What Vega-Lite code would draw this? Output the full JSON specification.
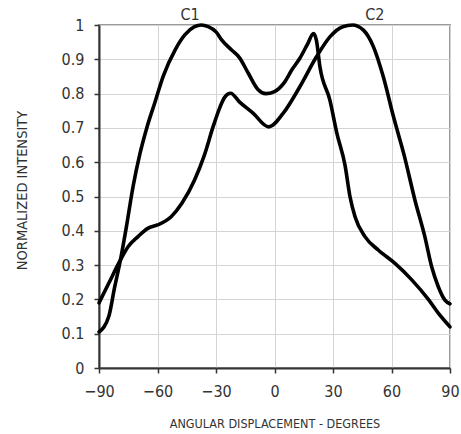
{
  "$schema": "https://vega.github.io/schema/vega-lite/v6.json",
  "width": 351,
  "height": 343,
  "autosize": {"type": "none"},
  "padding": {"left": 99, "top": 25, "right": 11, "bottom": 66},
  "background": "white",
  "config": {
    "view": {"stroke": "#9a9a9a", "strokeWidth": 2},
    "font": "DejaVu Sans Condensed",
    "axis": {
      "labelFont": "DejaVu Sans Condensed",
      "titleFont": "DejaVu Sans Condensed",
      "labelFontSize": 16,
      "titleFontSize": 12.5,
      "titleFontWeight": "normal",
      "labelColor": "#333",
      "titleColor": "#333",
      "gridColor": "#d4d4d4",
      "gridWidth": 1,
      "domainColor": "#333",
      "domainWidth": 2,
      "tickColor": "#333",
      "tickSize": 5,
      "tickWidth": 1.5,
      "labelOverlap": false,
      "labelFlush": false
    }
  },
  "datasets": {
    "curves": [
      {"series": "A", "angle": -90, "intensity": 0.105},
      {"series": "A", "angle": -85, "intensity": 0.15},
      {"series": "A", "angle": -82, "intensity": 0.235},
      {"series": "A", "angle": -79, "intensity": 0.315},
      {"series": "A", "angle": -76, "intensity": 0.41},
      {"series": "A", "angle": -72.5, "intensity": 0.53},
      {"series": "A", "angle": -69, "intensity": 0.625},
      {"series": "A", "angle": -65.5, "intensity": 0.7},
      {"series": "A", "angle": -61.3, "intensity": 0.775},
      {"series": "A", "angle": -57, "intensity": 0.852},
      {"series": "A", "angle": -51, "intensity": 0.927},
      {"series": "A", "angle": -46, "intensity": 0.971},
      {"series": "A", "angle": -41, "intensity": 0.995},
      {"series": "A", "angle": -37.5, "intensity": 1.0},
      {"series": "A", "angle": -34, "intensity": 0.995},
      {"series": "A", "angle": -30, "intensity": 0.98},
      {"series": "A", "angle": -27, "intensity": 0.956},
      {"series": "A", "angle": -22, "intensity": 0.927},
      {"series": "A", "angle": -18, "intensity": 0.905},
      {"series": "A", "angle": -13.5, "intensity": 0.86},
      {"series": "A", "angle": -8.5, "intensity": 0.812},
      {"series": "A", "angle": -4.5, "intensity": 0.8},
      {"series": "A", "angle": 0, "intensity": 0.806},
      {"series": "A", "angle": 5, "intensity": 0.832},
      {"series": "A", "angle": 9, "intensity": 0.87},
      {"series": "A", "angle": 13, "intensity": 0.903},
      {"series": "A", "angle": 17, "intensity": 0.945},
      {"series": "A", "angle": 20, "intensity": 0.975},
      {"series": "A", "angle": 21.5, "intensity": 0.955},
      {"series": "A", "angle": 23.3, "intensity": 0.878},
      {"series": "A", "angle": 28.4, "intensity": 0.781},
      {"series": "A", "angle": 32, "intensity": 0.684},
      {"series": "A", "angle": 36.2, "intensity": 0.59},
      {"series": "A", "angle": 38.7, "intensity": 0.5},
      {"series": "A", "angle": 41.3, "intensity": 0.441},
      {"series": "A", "angle": 46.4, "intensity": 0.383},
      {"series": "A", "angle": 53.2, "intensity": 0.344},
      {"series": "A", "angle": 61.8, "intensity": 0.305},
      {"series": "A", "angle": 70.4, "intensity": 0.257},
      {"series": "A", "angle": 78.9, "intensity": 0.2},
      {"series": "A", "angle": 84, "intensity": 0.16},
      {"series": "A", "angle": 90, "intensity": 0.12},
      {"series": "B", "angle": -90, "intensity": 0.19},
      {"series": "B", "angle": -85, "intensity": 0.247},
      {"series": "B", "angle": -79, "intensity": 0.315},
      {"series": "B", "angle": -75, "intensity": 0.354},
      {"series": "B", "angle": -70, "intensity": 0.383},
      {"series": "B", "angle": -65, "intensity": 0.407},
      {"series": "B", "angle": -60, "intensity": 0.417},
      {"series": "B", "angle": -53, "intensity": 0.441},
      {"series": "B", "angle": -47.5, "intensity": 0.48},
      {"series": "B", "angle": -41, "intensity": 0.548},
      {"series": "B", "angle": -36, "intensity": 0.62},
      {"series": "B", "angle": -31.4, "intensity": 0.705},
      {"series": "B", "angle": -28, "intensity": 0.76},
      {"series": "B", "angle": -25.5, "intensity": 0.79},
      {"series": "B", "angle": -22.5, "intensity": 0.801},
      {"series": "B", "angle": -18, "intensity": 0.776},
      {"series": "B", "angle": -11, "intensity": 0.743},
      {"series": "B", "angle": -3, "intensity": 0.703},
      {"series": "B", "angle": 4.5, "intensity": 0.743},
      {"series": "B", "angle": 13, "intensity": 0.82},
      {"series": "B", "angle": 21.6, "intensity": 0.908},
      {"series": "B", "angle": 28.5, "intensity": 0.966},
      {"series": "B", "angle": 35, "intensity": 0.995},
      {"series": "B", "angle": 40, "intensity": 1.0},
      {"series": "B", "angle": 45.6, "intensity": 0.985},
      {"series": "B", "angle": 50.7, "intensity": 0.937},
      {"series": "B", "angle": 55.8, "intensity": 0.849},
      {"series": "B", "angle": 61, "intensity": 0.733},
      {"series": "B", "angle": 66.5, "intensity": 0.62},
      {"series": "B", "angle": 72, "intensity": 0.49},
      {"series": "B", "angle": 77, "intensity": 0.385},
      {"series": "B", "angle": 80.6, "intensity": 0.295},
      {"series": "B", "angle": 84, "intensity": 0.237},
      {"series": "B", "angle": 87.4, "intensity": 0.198},
      {"series": "B", "angle": 90, "intensity": 0.187}
    ],
    "labels": [
      {"label": "C1", "angle": -43.3, "intensity": 1},
      {"label": "C2", "angle": 51.5, "intensity": 1}
    ]
  },
  "encoding": {
    "x": {
      "field": "angle", "type": "quantitative",
      "scale": {"domain": [-90, 90], "nice": false},
      "axis": {"values": [-90, -60, -30, 0, 30, 60, 90], "title": "ANGULAR DISPLACEMENT - DEGREES", "labelPadding": 10, "titlePadding": 18}
    },
    "y": {
      "field": "intensity", "type": "quantitative",
      "scale": {"domain": [0, 1], "nice": false},
      "axis": {"values": [0, 0.1, 0.2, 0.3, 0.4, 0.5, 0.6, 0.7, 0.8, 0.9, 1], "tickCount": 11, "title": "NORMALIZED INTENSITY", "titleFontSize": 14.5, "titleY": 165, "labelPadding": 10, "titlePadding": 32, "format": "~g"}
    }
  },
  "layer": [
    {
      "data": {"name": "curves"},
      "mark": {"type": "line", "interpolate": "monotone", "strokeWidth": 3.6, "color": "black", "strokeCap": "round", "strokeJoin": "round"},
      "encoding": {
        "detail": {"field": "series", "type": "nominal"}
      }
    },
    {
      "data": {"name": "labels"},
      "mark": {"type": "text", "font": "DejaVu Sans Condensed", "fontSize": 16, "color": "#333", "baseline": "bottom", "dy": -2},
      "encoding": {
        "text": {"field": "label"}
      }
    }
  ]
}
